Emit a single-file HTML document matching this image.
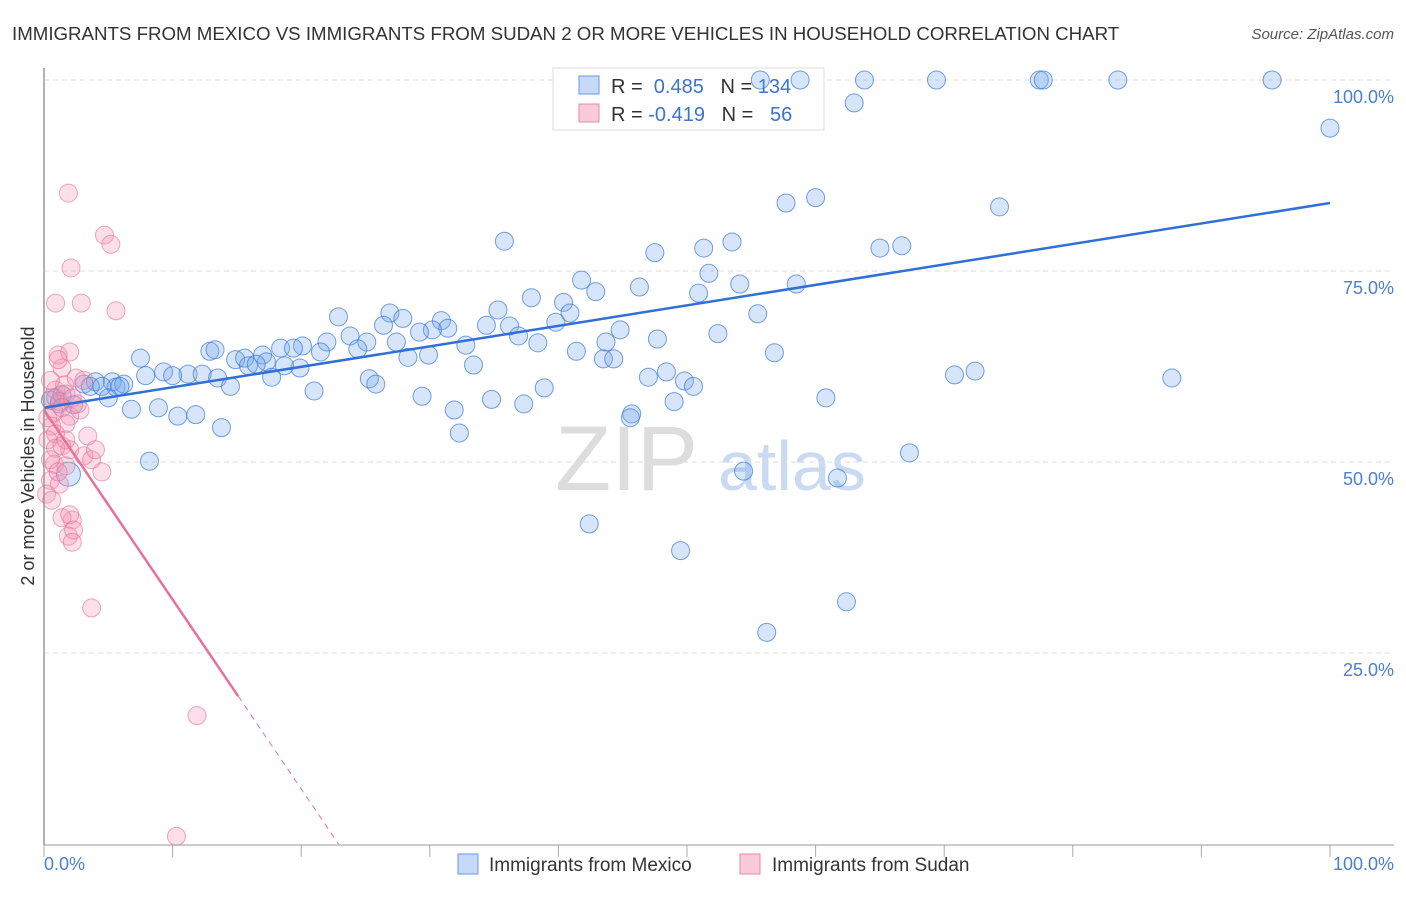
<!DOCTYPE html>
<html><head><meta charset="utf-8"><style>
body{margin:0;background:#fff;font-family:"Liberation Sans",sans-serif;}
svg text{font-family:"Liberation Sans",sans-serif;}
</style></head><body>
<svg id="chart" width="1406" height="892" xmlns="http://www.w3.org/2000/svg">
<text x="12" y="40" font-size="18.7" fill="#333">IMMIGRANTS FROM MEXICO VS IMMIGRANTS FROM SUDAN 2 OR MORE VEHICLES IN HOUSEHOLD CORRELATION CHART</text>
<text x="1394" y="39" font-size="15" fill="#555" text-anchor="end" font-style="italic">Source: ZipAtlas.com</text>
<g>
<text x="555" y="490" font-size="92" fill="#ddd" font-family="Liberation Serif,serif">ZIP</text>
<text x="718" y="490" font-size="70" fill="#c9daf2">atlas</text>
</g>
<g id="grid"></g>
<g>
<rect x="553" y="68" width="271" height="62" fill="#fff" stroke="#ddd"/>
<rect x="579" y="76" width="20" height="18" fill="#c5daf6" stroke="#6a9ae0"/>
<rect x="579" y="104" width="20" height="18" fill="#f9cbd8" stroke="#e88aa7"/>
<text x="611" y="93" font-size="20" fill="#333">R = <tspan fill="#3b73cf">&#160;0.485</tspan>&#160;&#160;&#160;N = <tspan fill="#3b73cf">134</tspan></text>
<text x="611" y="121" font-size="20" fill="#333">R = <tspan fill="#3b73cf">-0.419</tspan>&#160;&#160;&#160;N = <tspan fill="#3b73cf">&#160;&#160;56</tspan></text>
</g>
<g id="pts"></g>
<g id="lines"></g>
<line x1="44" y1="68" x2="44" y2="845" stroke="#999" stroke-width="1.5"/>
<line x1="44" y1="845" x2="1394" y2="845" stroke="#999" stroke-width="1"/>
<text transform="translate(34,456) rotate(-90)" text-anchor="middle" font-size="18" fill="#333">2 or more Vehicles in Household</text>
<text x="44" y="870" font-size="18" fill="#4a7fd4">0.0%</text>
<text x="1394" y="870" font-size="18" fill="#4a7fd4" text-anchor="end">100.0%</text>
<g>
<rect x="458" y="854" width="20" height="20" fill="#c5daf6" stroke="#6a9ae0"/>
<text x="489" y="871" font-size="19" fill="#333">Immigrants from Mexico</text>
<rect x="740" y="854" width="20" height="20" fill="#f9cbd8" stroke="#e88aa7"/>
<text x="772" y="871" font-size="19" fill="#333">Immigrants from Sudan</text>
</g>
</svg>
<script>
const yTicks=[25,50,75,100];
const yTickLabels=["25.0%","50.0%","75.0%","100.0%"];
const xTicks=[0,10,20,30,40,50,60,70,80,90,100];
const mexicoX=[55.7,58.8,63.8,69.4,77.4,77.7,83.5,95.5,63.0,100,57.7,60.0,74.3,35.8,47.5,51.3,53.5,65.0,66.7,51.7,41.8,42.9,46.3,54.1,58.5,50.9,37.9,40.4,35.3,40.9,26.9,22.9,27.9,26.4,30.9,31.4,34.4,36.2,39.8,44.8,55.5,30.2,29.2,23.8,22.0,20.1,25.1,27.4,36.9,38.4,43.7,47.7,52.4,32.8,7.5,12.9,13.3,14.9,17.0,18.4,19.4,21.5,24.4,41.4,56.8,29.9,28.3,15.6,15.9,17.3,16.5,19.9,9.3,11.2,12.3,10.0,13.5,7.9,17.7,18.7,43.5,44.3,33.4,47.0,48.4,49.8,50.5,70.8,72.4,87.7,25.3,25.8,14.5,3.1,4.0,5.3,5.6,6.2,3.6,4.5,5.9,21.0,38.9,29.4,34.8,49.0,60.8,5.0,0.9,1.2,2.3,37.3,6.8,8.9,10.4,11.8,31.9,45.7,45.6,13.8,32.3,8.2,67.3,54.4,61.7,1.9,42.4,49.5,62.4,56.2,0.5,1.4];
const mexicoY=[100,100,100,100,100,100,100,100,97.0,93.7,83.9,84.6,83.4,78.9,77.4,78.0,78.8,78.0,78.3,74.7,73.8,72.3,72.9,73.3,73.3,72.1,71.5,70.9,69.9,69.5,69.5,69.0,68.8,67.9,68.5,67.5,67.9,67.8,68.3,67.3,69.4,67.3,67.0,66.5,65.7,65.2,65.7,65.7,66.5,65.6,65.7,66.1,66.8,65.3,63.6,64.5,64.7,63.4,64.0,64.9,64.9,64.4,64.8,64.5,64.3,64.0,63.7,63.6,62.6,63.1,62.8,62.3,61.8,61.5,61.5,61.3,61.0,61.3,61.1,62.6,63.5,63.5,62.7,61.1,61.8,60.6,59.9,61.4,61.9,61.0,60.9,60.2,59.9,60.2,60.5,60.5,59.8,60.2,59.9,59.9,59.9,59.3,59.7,58.6,58.2,57.9,58.4,58.4,58.4,57.6,57.5,57.6,56.9,57.1,56.0,56.2,56.8,56.3,55.8,54.5,53.8,50.1,51.2,48.8,47.9,48.4,41.9,38.4,31.7,27.7,58.1,58.8];
const sudanX=[1.9,4.7,5.2,2.1,0.9,2.9,5.6,1.1,2.0,1.4,0.9,1.6,2.5,3.1,1.7,0.6,1.2,2.2,0.8,1.4,0.3,2.0,2.8,0.6,1.7,0.9,0.3,1.4,2.0,0.9,3.1,3.7,0.8,1.7,4.5,0.5,1.2,0.2,0.6,2.2,1.4,2.0,1.9,2.3,2.2,3.7,11.9,10.3,0.5,1.1,1.7,2.6,3.4,4.0,0.5,1.1];
const sudanY=[85.2,79.7,78.5,75.4,70.8,70.8,69.8,64.0,64.4,62.3,59.4,60.1,61.0,60.7,58.9,58.4,57.9,58.4,56.5,57.1,55.8,56.0,56.8,54.7,55.0,53.7,52.9,52.1,51.6,51.8,50.8,50.3,49.7,49.5,48.7,47.6,47.1,45.8,45.0,42.4,42.7,43.1,40.3,41.1,39.5,30.9,16.8,1.0,50.3,48.7,52.9,57.6,53.4,51.6,60.7,63.4];
const mexicoTrend=[57.1,83.9];   // y at x=0, y at x=100
const sudanTrend=[56.8,-2.48];   // intercept, slope
const sudanSolidEnd=15.1;
const NS="http://www.w3.org/2000/svg";
const X=v=>44+v*12.86, Y=v=>844-v*7.64;
function mk(tag,attrs,parent){const e=document.createElementNS(NS,tag);for(const k in attrs)e.setAttribute(k,attrs[k]);parent.appendChild(e);return e;}
const grid=document.getElementById('grid'),pts=document.getElementById('pts'),lines=document.getElementById('lines'),svg=document.getElementById('chart');
yTicks.forEach((t,i)=>{
 const l=mk('line',{x1:44,x2:1394,y1:Y(t),y2:Y(t),stroke:'#ddd','stroke-dasharray':'5,4'},grid);
 
 
 const tx=mk('text',{x:1394,y:Y(t)+23,'text-anchor':'end','font-size':18,fill:'#4a7fd4'},svg);
 tx.textContent=yTickLabels[i];
 
 
});
xTicks.forEach(t=>{
 const l=mk('line',{x1:X(t),x2:X(t),y1:845,y2:857,stroke:'#aaa'},grid);
 
 
});
mexicoX.forEach((x,i)=>{
 const c=mk('circle',{cx:X(x),cy:Y(mexicoY[i]),r:(x<2.5&&mexicoY[i]<50)?12:9,fill:'rgba(120,170,235,0.3)',stroke:'rgba(60,120,215,0.7)','stroke-width':1},pts);
 
 
});
sudanX.forEach((x,i)=>{
 const c=mk('circle',{cx:X(x),cy:Y(sudanY[i]),r:9,fill:'rgba(245,150,180,0.3)',stroke:'rgba(230,110,150,0.6)','stroke-width':1},pts);
 
 
});
const bl=mk('line',{x1:X(0),y1:Y(mexicoTrend[0]),x2:X(100),y2:Y(mexicoTrend[1]),stroke:'#2f6fd6','stroke-width':2.5},lines);


const sy=x=>sudanTrend[0]+sudanTrend[1]*x;
const zeroX=-sudanTrend[0]/sudanTrend[1];
const pl=mk('line',{x1:X(0),y1:Y(sy(0)),x2:X(sudanSolidEnd),y2:Y(sy(sudanSolidEnd)),stroke:'#e8709a','stroke-width':2.5},lines);


const pd=mk('line',{x1:X(sudanSolidEnd),y1:Y(sy(sudanSolidEnd)),x2:X(zeroX),y2:Y(0),stroke:'#e8709a','stroke-width':1,'stroke-dasharray':'6,5'},lines);


</script>
</body></html>
